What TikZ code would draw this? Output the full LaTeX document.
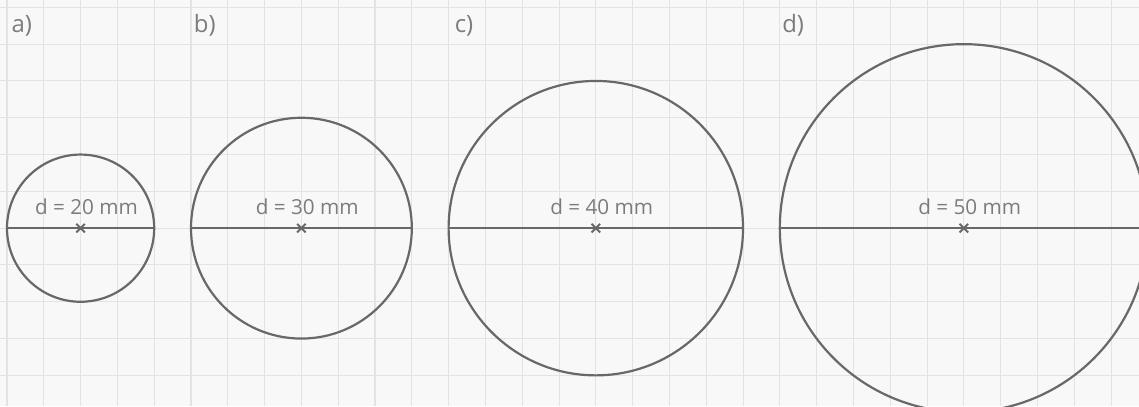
\documentclass[tikz,border=0pt]{standalone}
\usepackage{fontspec}
\setmainfont{Open Sans}
\usepackage{tikz}
\usetikzlibrary{positioning, shapes.misc}
\definecolor{pencil}{HTML}{686868}
\definecolor{pencillight}{HTML}{7C7C7C}
\definecolor{paper}{HTML}{F8F8F8}
\definecolor{gridgrey}{HTML}{E3E3E3}
\tikzset{
  gridline/.style   = {draw=gridgrey, line width=0.8pt},
  disc/.style       = {circle, draw=pencil, line width=1.7pt, inner sep=0pt,
                       outer sep=0pt},
  diameter/.style   = {-, line width=1.8pt, pencil},
  centremark/.style = {cross out, draw=pencil, line width=1.5pt,
                       minimum size=1.8mm, inner sep=0pt},
  dimtext/.style    = {font=\fontsize{16}{19}\selectfont, text=pencillight,
                       anchor=base, inner sep=0pt},
  partlabel/.style  = {font=\fontsize{18.5}{22}\selectfont, text=pencillight,
                       anchor=base west, inner sep=0pt},
}

\begin{document}
\begin{tikzpicture}
    % squared paper
    \useasboundingbox (-0.19,-4.84) rectangle (30.76,6.2);
    \clip (-0.19,-4.84) rectangle (30.76,6.2);
    \fill[paper] (-0.19,-4.84) rectangle (30.76,6.2);
    \draw[gridline] (-0.19,-4.84) grid (30.76,6.2);

    \node[disc, minimum size=4cm]  (ca) at (2,0)  {};
    \node[disc, minimum size=6cm]  (cb) at (8,0)  {};
    \node[disc, minimum size=8cm]  (cc) at (16,0) {};
    \node[disc, minimum size=10cm] (cd) at (26,0) {};

    \draw[diameter] (ca.west) -- (ca.east);
    \draw[diameter] (cb.west) -- (cb.east);
    \draw[diameter] (cc.west) -- (cc.east);
    \draw[diameter] (cd.west) -- (cd.east);

    \node[centremark] (ma) at (ca.center) {};
    \node[centremark] (mb) at (cb.center) {};
    \node[centremark] (mc) at (cc.center) {};
    \node[centremark] (md) at (cd.center) {};

    \node[dimtext] (da) at ([shift={(0.16,0.37)}]ca.center) {d = 20 mm};
    \node[dimtext] (db) at ([shift={(0.16,0.37)}]cb.center) {d = 30 mm};
    \node[dimtext] (dc) at ([shift={(0.16,0.37)}]cc.center) {d = 40 mm};
    \node[dimtext] (dd) at ([shift={(0.16,0.37)}]cd.center) {d = 50 mm};

    \node[partlabel] (la) at (0.12,5.33)  {a)};
    \node[partlabel] (lb) at (5.07,5.33)  {b)};
    \node[partlabel] (lc) at (12.16,5.33) {c)};
    \node[partlabel] (ld) at (21.06,5.33) {d)};
  \end{tikzpicture}
\end{document}
